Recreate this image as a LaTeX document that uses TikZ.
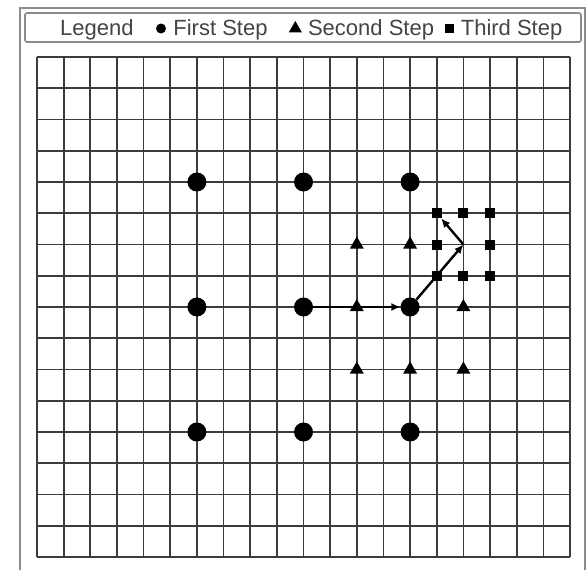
\documentclass[tikz,border=0pt]{standalone}
\usepackage{fontspec}
\setmainfont{Liberation Sans}
\usepackage{tikz}
\usetikzlibrary{shapes.geometric, arrows.meta, positioning}
\definecolor{framegray}{RGB}{140, 140, 140}
\definecolor{gridgray}{RGB}{60, 60, 60}
\definecolor{textgray}{RGB}{68, 68, 68}

\begin{document}
\begin{tikzpicture}[
    x=1pt, y=-1pt,
    frame/.style={draw=framegray, line width=2pt},
    legendbox/.style={draw=framegray, line width=1.6pt, rounded corners=2pt},
    legtext/.style={font=\fontsize{22}{26}\selectfont, text=textgray, inner sep=0pt,
                    text height=16pt, text depth=3pt},
    gridline/.style={draw=gridgray, line width=1.7pt},
    dot/.style={circle, fill=black, inner sep=0pt, minimum size=19pt},
    tri/.style={regular polygon, regular polygon sides=3, fill=black, inner sep=0pt,
                minimum size=16pt},
    sq/.style={rectangle, fill=black, inner sep=0pt, minimum size=10pt},
    move/.style={draw=black, line width=2.4pt, -{Latex[length=9pt, width=8pt]}}
]
    \useasboundingbox (0,0) rectangle (588,570);
    \draw[frame] (20,570) |- (585,8) -- (585,570);
    \draw[legendbox] (25,13) rectangle (581,42);

    \node[legtext, anchor=west] (legend) at (60,28.5) {Legend};
    \node[circle, fill=black, inner sep=0pt, minimum size=10pt, right=22pt of legend] (keydot) {};
    \node[legtext, right=7pt of keydot] (first) {First Step};
    \node[regular polygon, regular polygon sides=3, fill=black, inner sep=0pt,
          minimum size=15pt, right=23pt of first] (keytri) {};
    \node[legtext, right=8pt of keytri] (second) {Second Step};
    \node[rectangle, fill=black, inner sep=0pt, minimum size=9pt, right=11pt of second] (keysq) {};
    \node[legtext, right=6pt of keysq] (third) {Third Step};

    \begin{scope}[shift={(37,57)}, x=26.65pt, y=-31.25pt]
        \foreach \i in {0,...,20}
            \draw[gridline] (\i,0) -- (\i,16);
        \foreach \j in {0,...,16}
            \draw[gridline] (0,\j) -- (20,\j);

        \foreach \c in {6,10,14}
            \foreach \r in {4,8,12}
                \node[dot] (d\c-\r) at (\c,\r) {};
        \foreach \c/\r in {12/6,14/6,12/8,16/8,12/10,14/10,16/10}
            \node[tri] (t\c-\r) at (\c,\r) {};
        \foreach \c/\r in {15/5,16/5,17/5,15/6,17/6,15/7,16/7,17/7}
            \node[sq] (s\c-\r) at (\c,\r) {};
        \coordinate (turn) at (16,6);

        \draw[move] (d10-8) -- (d14-8);
        \draw[move] (d14-8) -- (turn);
        \draw[move] (turn) -- (s15-5);
    \end{scope}
\end{tikzpicture}
\end{document}
